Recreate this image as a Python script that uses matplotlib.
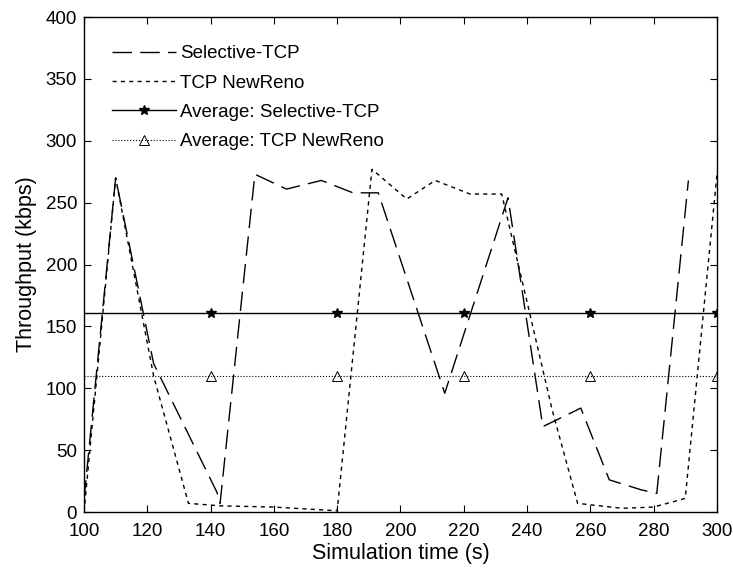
import matplotlib
matplotlib.use("Agg")
import matplotlib.pyplot as plt

plt.rcParams['font.family'] = ['Liberation Sans', 'DejaVu Sans']

sel_t = [100, 110, 122, 142, 143, 154, 164, 175, 185, 193, 214, 234, 245, 257, 266, 276, 281, 291]
sel_v = [10, 270, 120, 16, 7, 273, 261, 268, 258, 258, 96, 254, 69, 84, 26, 18, 15, 268]

nr_t = [100, 110, 122, 133, 143, 160, 180, 191, 202, 211, 222, 232, 240, 248, 256, 270, 280, 290, 300]
nr_v = [0, 270, 110, 7, 5, 4, 1, 277, 253, 268, 257, 257, 170, 82, 7, 3, 4, 11, 272]

avg_t = [100, 140, 180, 220, 260, 300]
avg_sel = [161, 161, 161, 161, 161, 161]
avg_nr = [110, 110, 110, 110, 110, 110]

fig = plt.figure(figsize=(7.33, 5.71), dpi=100)
ax = fig.add_axes([0.1146, 0.1033, 0.978 - 0.1146, 0.970 - 0.1033])

ax.plot(sel_t, sel_v, color='black', lw=1.0, dashes=(14, 6), label='Selective-TCP')
ax.plot(nr_t, nr_v, color='black', lw=1.0, dashes=(3, 3), label='TCP NewReno')
ax.plot(avg_t, avg_sel, color='black', lw=1.0, marker='*', ms=7, markevery=[1, 2, 3, 4, 5],
        label='Average: Selective-TCP')
ax.plot(avg_t, avg_nr, color='black', lw=0.8, ls=':', marker='^', ms=7, markevery=[1, 2, 3, 4, 5],
        mfc='none', mew=0.7, label='Average: TCP NewReno')

ax.set_xlim(100, 300)
ax.set_ylim(0, 400)
ax.set_xticks(range(100, 301, 20))
ax.set_yticks(range(0, 401, 50))
ax.tick_params(direction='in', top=True, right=True, labelsize=13.5, length=5)
ax.tick_params(axis='x', pad=8)
ax.tick_params(axis='y', pad=5)
ax.set_xlabel('Simulation time (s)', fontsize=15.5, labelpad=2)
ax.set_ylabel('Throughput (kbps)', fontsize=15.5, labelpad=6)
for s in ax.spines.values():
    s.set_linewidth(1.0)

ax.legend(loc='upper left', frameon=False, fontsize=13.5, handlelength=3.4,
          handletextpad=0.2, labelspacing=0.65, borderaxespad=1.1, borderpad=0.4)

fig.savefig('out.png', dpi=100)
